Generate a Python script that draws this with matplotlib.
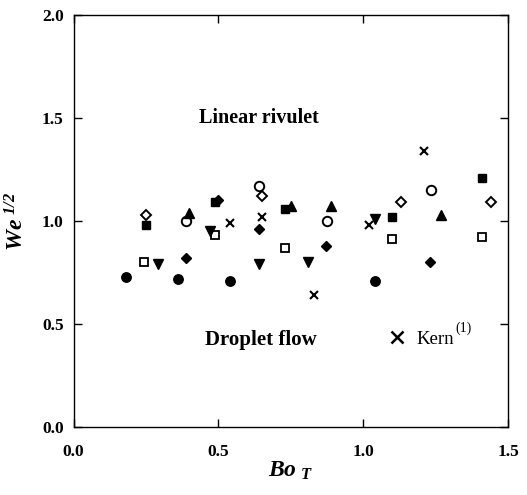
import matplotlib
matplotlib.use("Agg")
import matplotlib.pyplot as plt

plt.rcParams['font.family'] = ['Liberation Serif', 'DejaVu Serif']
plt.rcParams['mathtext.fontset'] = 'custom'
plt.rcParams['mathtext.rm'] = 'Liberation Serif:bold:italic'
plt.rcParams['mathtext.it'] = 'Liberation Serif:bold:italic'
plt.rcParams['mathtext.bf'] = 'Liberation Serif:bold'

# Data series (Bo_T, We^1/2)
filled_circle_x = [0.18, 0.36, 0.54, 1.04]
filled_circle_y = [0.73, 0.72, 0.71, 0.71]
open_circle_x = [0.39, 0.64, 0.875, 1.235]
open_circle_y = [1.00, 1.17, 1.00, 1.15]
filled_square_x = [0.25, 0.49, 0.73, 1.10, 1.41]
filled_square_y = [0.98, 1.09, 1.06, 1.02, 1.21]
open_square_x = [0.245, 0.49, 0.73, 1.10, 1.41]
open_square_y = [0.80, 0.93, 0.87, 0.91, 0.92]
tri_up_x = [0.40, 0.75, 0.89, 1.27]
tri_up_y = [1.04, 1.07, 1.07, 1.03]
tri_down_x = [0.29, 0.47, 0.64, 0.81, 1.04]
tri_down_y = [0.79, 0.95, 0.79, 0.80, 1.01]
filled_diamond_x = [0.39, 0.50, 0.64, 0.87, 1.23]
filled_diamond_y = [0.82, 1.10, 0.96, 0.88, 0.80]
open_diamond_x = [0.25, 0.65, 1.13, 1.44]
open_diamond_y = [1.03, 1.12, 1.09, 1.09]
kern_x = [0.54, 0.65, 0.83, 1.02, 1.21]
kern_y = [0.99, 1.02, 0.64, 0.98, 1.34]

x_ticks = [0.0, 0.5, 1.0, 1.5]
y_ticks = [0.0, 0.5, 1.0, 1.5, 2.0]

fig = plt.figure(figsize=(5.27, 4.95), dpi=100)
ax = fig.add_axes([0.1395, 0.1374, 0.8245, 0.8326])

ms = 6.8
ax.plot(filled_circle_x, filled_circle_y, 'o', color='black', ms=ms)
ax.plot(open_circle_x, open_circle_y, 'o', mfc='white', mec='black', mew=1.4, ms=ms)
ax.plot(filled_square_x, filled_square_y, 's', color='black', ms=ms - 0.5)
ax.plot(open_square_x, open_square_y, 's', mfc='white', mec='black', mew=1.3, ms=ms - 0.5)
ax.plot(tri_up_x, tri_up_y, '^', color='black', ms=ms)
ax.plot(tri_down_x, tri_down_y, 'v', color='black', ms=ms)
ax.plot(filled_diamond_x, filled_diamond_y, 'D', color='black', ms=ms - 1.8)
ax.plot(open_diamond_x, open_diamond_y, 'D', mfc='white', mec='black', mew=1.4, ms=ms - 1.8)
ax.plot(kern_x, kern_y, 'x', color='black', mew=1.5, ms=ms - 0.8)

ax.set_xlim(0, 1.5)
ax.set_ylim(0, 2.0)
ax.set_xticks(x_ticks)
ax.set_yticks(y_ticks)
ax.set_xticklabels([f"{v:.1f}" for v in x_ticks], fontweight='bold', fontsize=12.5)
ax.set_yticklabels([f"{v:.1f}" for v in y_ticks], fontweight='bold', fontsize=12.5)
ax.tick_params(direction='in', length=6, width=1, top=True, right=True, pad=7)
ax.tick_params(axis='x', pad=12)
for s in ax.spines.values():
    s.set_linewidth(1.0)

ax.set_xlabel(r'$Bo_{\ T}$', fontsize=17, labelpad=0)
ax.set_ylabel(r'$We^{\ 1/2}$', fontsize=17, labelpad=10)

ax.text(0.64, 1.50, 'Linear rivulet', fontsize=14.5, fontweight='bold', ha='center', va='center')
ax.text(0.648, 0.42, 'Droplet flow', fontsize=15, fontweight='bold', ha='center', va='center')
ax.plot([1.116], [0.438], 'x', color='black', mew=1.8, ms=8.5)
kern_txt = ax.text(1.185, 0.425, 'Kern', fontsize=13.5, ha='left', va='center')
ax.annotate('(1)', xy=(1.0, 0.75), xycoords=kern_txt, fontsize=10,
            ha='left', va='bottom', xytext=(0.5, 0), textcoords='offset points')

fig.savefig('out.png', dpi=100)
